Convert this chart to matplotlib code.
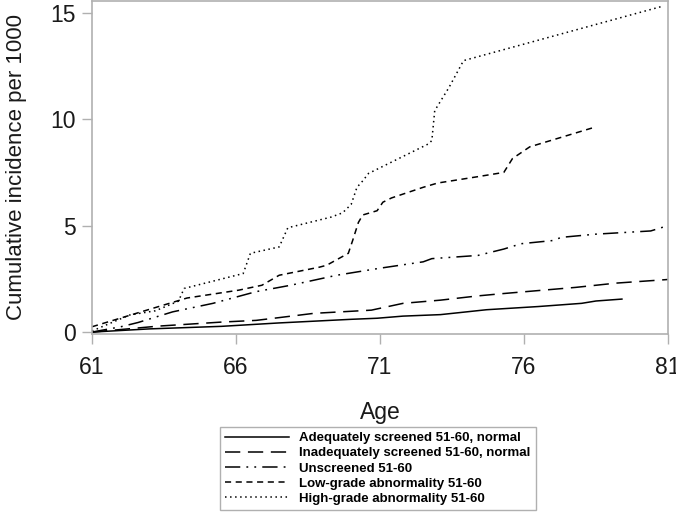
import matplotlib
matplotlib.use("Agg")
import matplotlib.pyplot as plt

plt.rcParams['font.family'] = ['Liberation Sans', 'DejaVu Sans']

# Adequately screened 51-60, normal
adq_x = [61.0, 63.0, 65.5, 67.5, 70.0, 70.9, 71.8, 73.1, 73.8, 74.7, 76.5, 78.0, 78.5, 79.4]
adq_y = [0.0, 0.15, 0.27, 0.43, 0.6, 0.65, 0.75, 0.82, 0.92, 1.05, 1.2, 1.35, 1.46, 1.55]

# Inadequately screened 51-60, normal
inadq_x = [61.0, 62.0, 63.3, 65.5, 66.7, 67.5, 68.7, 70.7, 71.8, 73.1, 74.4, 75.2, 77.8, 79.2, 81.0]
inadq_y = [0.0, 0.12, 0.28, 0.47, 0.55, 0.68, 0.88, 1.03, 1.35, 1.5, 1.7, 1.8, 2.1, 2.3, 2.47]

# Unscreened 51-60
uns_x = [61.0, 62.0, 62.6, 63.8, 65.2, 66.7, 67.9, 69.5, 71.0, 72.5, 72.8, 74.4, 75.3, 75.9, 77.0, 77.3, 78.5, 80.4, 81.0]
uns_y = [0.0, 0.25, 0.45, 0.95, 1.35, 1.9, 2.2, 2.67, 3.0, 3.3, 3.45, 3.6, 3.9, 4.15, 4.3, 4.45, 4.6, 4.75, 5.0]

# Low-grade abnormality 51-60
low_x = [61.0, 62.9, 64.3, 66.1, 66.9, 67.5, 68.9, 69.15, 69.9, 70.05, 70.25, 70.4, 70.9, 71.1, 71.4, 72.5, 73.0, 74.4, 75.3, 75.6, 76.2, 78.4]
low_y = [0.25, 1.03, 1.6, 1.97, 2.2, 2.67, 3.05, 3.14, 3.7, 4.3, 5.15, 5.5, 5.7, 6.1, 6.3, 6.8, 7.0, 7.3, 7.5, 8.15, 8.7, 9.6]

# High-grade abnormality 51-60
high_x = [61.0, 62.3, 63.2, 64.0, 64.2, 66.25, 66.5, 67.5, 67.8, 69.3, 69.7, 70.0, 70.2, 70.4, 70.6, 72.7, 72.8, 72.9, 73.4, 73.9, 80.8]
high_y = [0.05, 0.8, 1.0, 1.45, 2.05, 2.75, 3.7, 4.0, 4.9, 5.4, 5.6, 6.0, 6.8, 7.1, 7.45, 8.85, 9.0, 10.4, 11.5, 12.75, 15.3]

labels = ["Adequately screened 51-60, normal",
          "Inadequately screened 51-60, normal",
          "Unscreened 51-60",
          "Low-grade abnormality 51-60",
          "High-grade abnormality 51-60"]

xticks = [61, 66, 71, 76, 81]
yticks = [0, 5, 10, 15]

fig = plt.figure(figsize=(6.76, 5.12), dpi=100)
ax = fig.add_axes([92/676, 1-334/512, 576/676, 333/512])

lw = 1.1
ax.plot(adq_x, adq_y, color='black', lw=lw, linestyle='-', label=labels[0])
ax.plot(inadq_x, inadq_y, color='black', lw=lw, linestyle=(0, (10, 5)), label=labels[1])
ax.plot(uns_x, uns_y, color='black', lw=lw, linestyle=(0, (10, 4, 1.2, 4, 1.2, 4)), label=labels[2])
ax.plot(low_x, low_y, color='black', lw=lw, linestyle=(0, (4, 3)), label=labels[3])
ax.plot(high_x, high_y, color='black', lw=lw, linestyle=(0, (1, 2.3)), label=labels[4])

ax.set_xlim(61, 81)
ax.set_ylim(-0.09, 15.55)
ax.set_xticks(xticks)
ax.set_yticks(yticks)
ax.tick_params(axis='both', direction='out', length=7.5, width=1, color='#b0b0b0',
               labelsize=16.5, labelcolor='#1a1a1a')
ax.tick_params(axis='x', pad=8)
ax.tick_params(axis='y', pad=4)
for s in ax.spines.values():
    s.set_color('#b0b0b0')
    s.set_linewidth(1.2)

ax.set_xlabel("Age", fontsize=16.5, color='#1a1a1a')
ax.xaxis.set_label_coords(0.5, -(401 - 334) / 333)
ax.set_ylabel("Cumulative incidence per 1000", fontsize=16, color='#1a1a1a')
ax.yaxis.set_label_coords((27 - 92) / 576, 0.5)

leg = fig.legend(loc='upper center', bbox_to_anchor=(378/676, 1-427/512),
                 prop={'weight': 'bold', 'size': 9.5}, handlelength=4.8,
                 fancybox=False, edgecolor='#b0b0b0', framealpha=1,
                 borderpad=0.38, labelspacing=0.22, handletextpad=0.8,
                 borderaxespad=0)
leg.get_frame().set_linewidth(1.0)

fig.savefig("out.png", dpi=100)
